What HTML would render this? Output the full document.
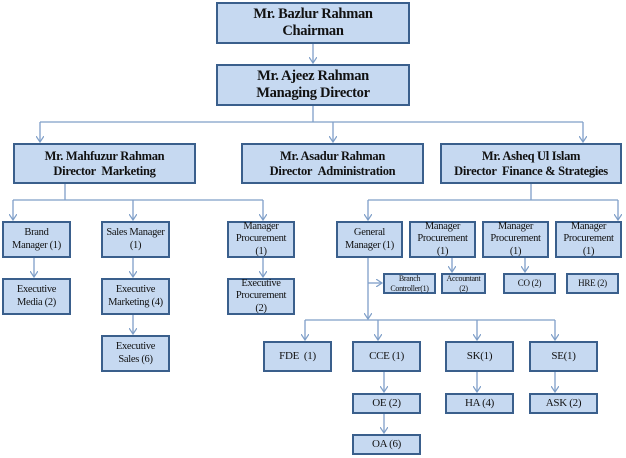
<!DOCTYPE html><html><head><style>
body{margin:0;background:#fff;width:626px;height:458px;overflow:hidden;font-family:"Liberation Serif",serif}
.b{position:absolute;box-sizing:border-box;background:#c6d9f1;border:2px solid #3a5f8c;display:flex;align-items:center;justify-content:center;text-align:center;color:#111;line-height:1.15;white-space:nowrap;letter-spacing:-0.3px}
svg{position:absolute;left:0;top:0}
</style></head><body>
<svg width="626" height="458"><defs><marker id="a" markerWidth="8" markerHeight="8" refX="6" refY="4" orient="auto" markerUnits="userSpaceOnUse"><path d="M0,0 L6,4 L0,8" fill="none" stroke="#7f9fc8" stroke-width="1.2"/></marker></defs>
<g stroke="#7f9fc8" stroke-width="1.3" fill="none">
<line x1="313" y1="44" x2="313" y2="63" marker-end="url(#a)"/>
<line x1="313" y1="106" x2="313" y2="122"/>
<line x1="40" y1="122" x2="583" y2="122"/>
<line x1="40" y1="122" x2="40" y2="142" marker-end="url(#a)"/>
<line x1="333" y1="122" x2="333" y2="142" marker-end="url(#a)"/>
<line x1="583" y1="122" x2="583" y2="142" marker-end="url(#a)"/>
<line x1="65" y1="184" x2="65" y2="200"/>
<line x1="13" y1="200" x2="263" y2="200"/>
<line x1="13" y1="200" x2="13" y2="220" marker-end="url(#a)"/>
<line x1="133" y1="200" x2="133" y2="220" marker-end="url(#a)"/>
<line x1="263" y1="200" x2="263" y2="220" marker-end="url(#a)"/>
<line x1="34" y1="258" x2="34" y2="277" marker-end="url(#a)"/>
<line x1="133" y1="258" x2="133" y2="277" marker-end="url(#a)"/>
<line x1="263" y1="258" x2="263" y2="277" marker-end="url(#a)"/>
<line x1="133" y1="315" x2="133" y2="334" marker-end="url(#a)"/>
<line x1="531" y1="184" x2="531" y2="200"/>
<line x1="368" y1="200" x2="618" y2="200"/>
<line x1="368" y1="200" x2="368" y2="220" marker-end="url(#a)"/>
<line x1="618" y1="200" x2="618" y2="220" marker-end="url(#a)"/>
<line x1="368" y1="258" x2="368" y2="319" marker-end="url(#a)"/>
<line x1="368" y1="283" x2="382" y2="283" marker-end="url(#a)"/>
<line x1="452" y1="258" x2="452" y2="272" marker-end="url(#a)"/>
<line x1="525" y1="258" x2="525" y2="272" marker-end="url(#a)"/>
<line x1="305" y1="320" x2="555" y2="320"/>
<line x1="305" y1="320" x2="305" y2="340" marker-end="url(#a)"/>
<line x1="378" y1="320" x2="378" y2="340" marker-end="url(#a)"/>
<line x1="477" y1="320" x2="477" y2="340" marker-end="url(#a)"/>
<line x1="555" y1="320" x2="555" y2="340" marker-end="url(#a)"/>
<line x1="384" y1="372" x2="384" y2="392" marker-end="url(#a)"/>
<line x1="477" y1="372" x2="477" y2="392" marker-end="url(#a)"/>
<line x1="555" y1="372" x2="555" y2="392" marker-end="url(#a)"/>
<line x1="384" y1="414" x2="384" y2="433" marker-end="url(#a)"/>
</g></svg>
<div class="b" style="left:216px;top:2px;width:194px;height:42px;font-size:14.5px;font-weight:bold">Mr. Bazlur Rahman<br>Chairman</div>
<div class="b" style="left:216px;top:64px;width:194px;height:42px;font-size:14.5px;font-weight:bold">Mr. Ajeez Rahman<br>Managing Director</div>
<div class="b" style="left:13px;top:143px;width:183px;height:41px;font-size:12.5px;font-weight:bold">Mr. Mahfuzur Rahman<br>Director &nbsp;Marketing</div>
<div class="b" style="left:241px;top:143px;width:183px;height:41px;font-size:12.5px;font-weight:bold">Mr. Asadur Rahman<br>Director &nbsp;Administration</div>
<div class="b" style="left:440px;top:143px;width:182px;height:41px;font-size:12.5px;font-weight:bold">Mr. Asheq Ul Islam<br>Director &nbsp;Finance &amp; Strategies</div>
<div class="b" style="left:2px;top:221px;width:69px;height:37px;font-size:10.5px">Brand<br>Manager (1)</div>
<div class="b" style="left:101px;top:221px;width:69px;height:37px;font-size:10.5px">Sales Manager<br>(1)</div>
<div class="b" style="left:227px;top:221px;width:68px;height:37px;font-size:10.5px">Manager<br>Procurement<br>(1)</div>
<div class="b" style="left:2px;top:278px;width:69px;height:37px;font-size:10.5px">Executive<br>Media (2)</div>
<div class="b" style="left:101px;top:278px;width:69px;height:37px;font-size:10.5px">Executive<br>Marketing (4)</div>
<div class="b" style="left:227px;top:278px;width:68px;height:37px;font-size:10.5px">Executive<br>Procurement<br>(2)</div>
<div class="b" style="left:101px;top:335px;width:69px;height:37px;font-size:10.5px">Executive<br>Sales (6)</div>
<div class="b" style="left:336px;top:221px;width:67px;height:37px;font-size:10.5px">General<br>Manager (1)</div>
<div class="b" style="left:409px;top:221px;width:67px;height:37px;font-size:10.5px">Manager<br>Procurement<br>(1)</div>
<div class="b" style="left:482px;top:221px;width:67px;height:37px;font-size:10.5px">Manager<br>Procurement<br>(1)</div>
<div class="b" style="left:555px;top:221px;width:67px;height:37px;font-size:10.5px">Manager<br>Procurement<br>(1)</div>
<div class="b" style="left:383px;top:273px;width:53px;height:21px;font-size:8px">Branch<br>Controller(1)</div>
<div class="b" style="left:441px;top:273px;width:45px;height:21px;font-size:8px">Accountant<br>(2)</div>
<div class="b" style="left:503px;top:273px;width:53px;height:21px;font-size:9px">CO (2)</div>
<div class="b" style="left:566px;top:273px;width:53px;height:21px;font-size:9px">HRE (2)</div>
<div class="b" style="left:263px;top:341px;width:69px;height:31px;font-size:11px">FDE &nbsp;(1)</div>
<div class="b" style="left:352px;top:341px;width:69px;height:31px;font-size:11px">CCE (1)</div>
<div class="b" style="left:445px;top:341px;width:69px;height:31px;font-size:11px">SK(1)</div>
<div class="b" style="left:529px;top:341px;width:69px;height:31px;font-size:11px">SE(1)</div>
<div class="b" style="left:352px;top:393px;width:69px;height:21px;font-size:11px">OE (2)</div>
<div class="b" style="left:445px;top:393px;width:69px;height:21px;font-size:11px">HA (4)</div>
<div class="b" style="left:529px;top:393px;width:69px;height:21px;font-size:11px">ASK (2)</div>
<div class="b" style="left:352px;top:434px;width:69px;height:21px;font-size:11px">OA (6)</div>
</body></html>
